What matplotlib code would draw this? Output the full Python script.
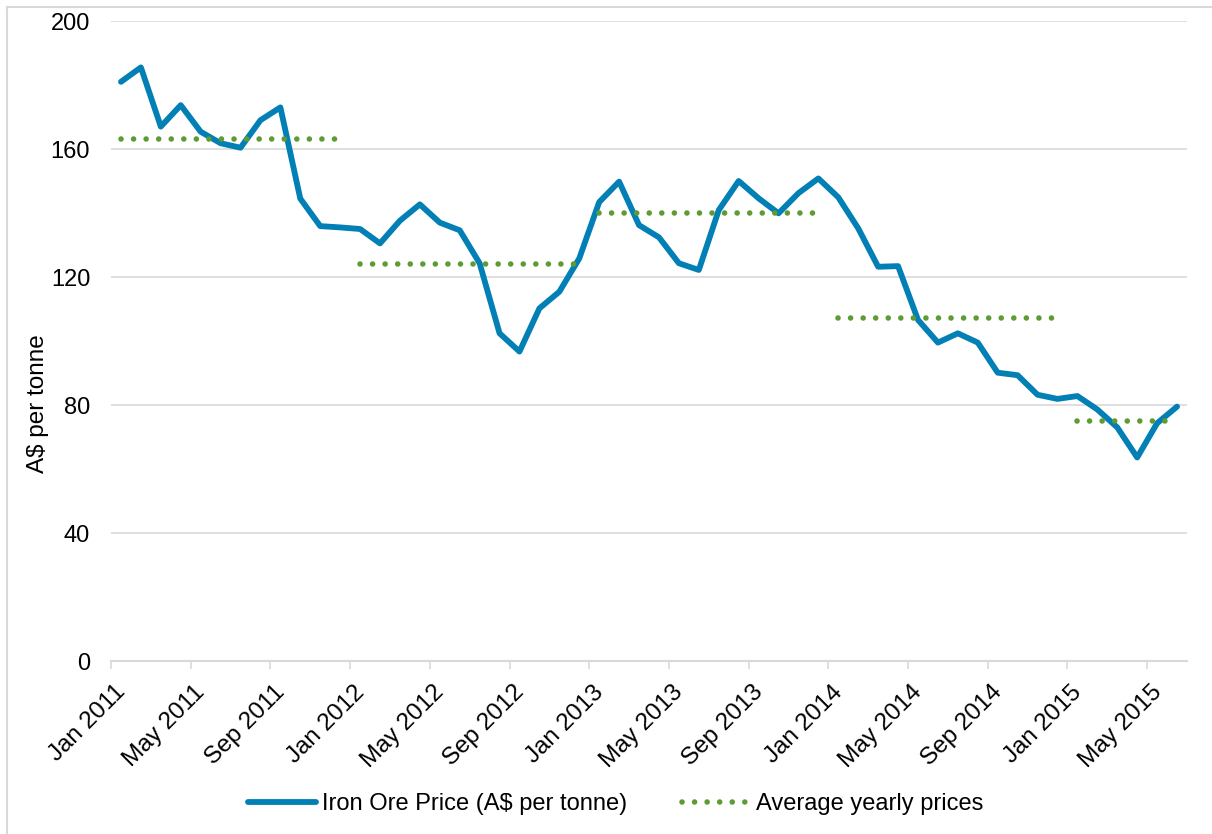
import matplotlib
matplotlib.use("Agg")
import matplotlib.pyplot as plt
from matplotlib.lines import Line2D
from matplotlib.transforms import ScaledTranslation
import numpy as np

plt.rcParams['font.family'] = ['Liberation Sans', 'DejaVu Sans']

# monthly iron ore price, Jan 2011 .. Jun 2015 (A$ per tonne)
prices = [181.0, 185.5, 167.0, 173.7, 165.4, 161.8, 160.4, 169.0, 173.0, 144.5, 135.9, 135.5,
          135.0, 130.5, 137.6, 142.7, 137.0, 134.6, 124.3, 102.4, 96.7, 110.2, 115.4, 125.8,
          143.4, 149.8, 136.2, 132.4, 124.3, 122.2, 140.9, 150.0, 144.6, 139.9, 146.2, 150.8,
          144.9, 135.2, 123.2, 123.4, 106.6, 99.5, 102.4, 99.5, 90.1, 89.3, 83.2, 81.9,
          82.8, 78.6, 73.0, 63.6, 74.3, 79.5]
years = [2011, 2012, 2013, 2014, 2015]
year_avg = [163.1, 124.1, 140.1, 107.1, 75.1]
tick_labels = ["Jan 2011", "May 2011", "Sep 2011", "Jan 2012", "May 2012", "Sep 2012",
               "Jan 2013", "May 2013", "Sep 2013", "Jan 2014", "May 2014", "Sep 2014",
               "Jan 2015", "May 2015"]

BLUE = "#0280B5"
GREEN = "#5F9B33"
GREY = "#D9D9D9"

fig = plt.figure(figsize=(12.12, 8.34), dpi=100)
ax = fig.add_axes([111 / 1212, 1 - 661 / 834, (1187 - 111) / 1212, 640 / 834])

x = np.arange(len(prices))
ax.plot(x, prices, color=BLUE, lw=4.2, solid_joinstyle="round", solid_capstyle="round",
        label="Iron Ore Price (A$ per tonne)", zorder=3)

# yearly averages: one dotted segment spanning the months of each year
for i, (yr, avg) in enumerate(zip(years, year_avg)):
    start = i * 12
    end = min(start + 11, len(prices) - 1)
    ax.plot([start, end], [avg, avg], color=GREEN, lw=4.0, linestyle=(0, (0.01, 2.25)),
            dash_capstyle="round", zorder=4,
            label="Average yearly prices" if i == 0 else None)

ax.set_xlim(-0.5, len(prices) - 0.5)
ax.set_ylim(0, 200)
ax.set_yticks(range(0, 201, 40))
ax.tick_params(axis="y", length=0, pad=15, labelsize=17)
ax.grid(axis="y", color=GREY, lw=1.2)
ax.set_axisbelow(True)

ax.set_xticks(np.arange(len(tick_labels)) * 4 - 0.5)
ax.set_xticklabels(tick_labels, rotation=45, ha="right", va="center",
                   rotation_mode="anchor", fontsize=17.5)
ax.tick_params(axis="x", length=6, width=1.2, color=GREY, pad=4)
off = ScaledTranslation(11 / 100, -14 / 100, fig.dpi_scale_trans)
for lab in ax.get_xticklabels():
    lab.set_transform(lab.get_transform() + off)

for s in ["top", "right", "left"]:
    ax.spines[s].set_visible(False)
ax.spines["bottom"].set_color(GREY)
ax.spines["bottom"].set_linewidth(1.5)

fig.text(38 / 1212, 1 - 404 / 834, "A$ per tonne", rotation=90, ha="center", va="center",
         fontsize=17.5)

fig.legend(loc="center", bbox_to_anchor=(0.508, 1 - 804 / 834), ncol=2, frameon=False,
           fontsize=17, handlelength=2.9, handletextpad=0.25, columnspacing=2.3)

# chart-area border (only left and top edges fall inside the image)
fig.add_artist(Line2D([7 / 1212, 7 / 1212], [0, 1 - 7 / 834], transform=fig.transFigure,
                      color=GREY, lw=1.5))
fig.add_artist(Line2D([7 / 1212, 1], [1 - 7 / 834, 1 - 7 / 834], transform=fig.transFigure,
                      color=GREY, lw=1.5))

fig.savefig("out.png", dpi=100)
